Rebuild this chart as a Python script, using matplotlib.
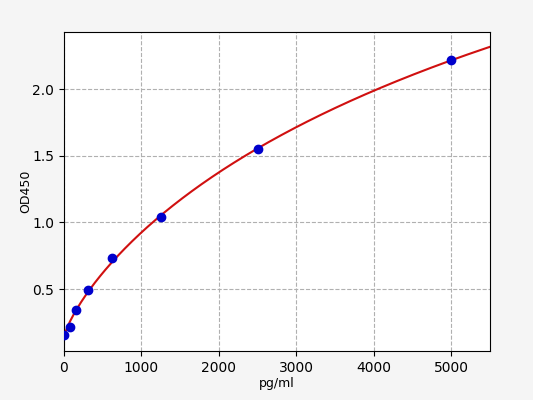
import numpy as np
import matplotlib.pyplot as plt

conc = [0, 78, 156, 312, 625, 1250, 2500, 5000]          # pg/ml
od = [0.155, 0.215, 0.345, 0.49, 0.73, 1.04, 1.55, 2.22]  # OD450

x = np.array(conc, dtype=float)
y = np.array(od)

# 4PL fit: y = d + (a-d)/(1+(x/c)^b); grid over b, c, least squares for a, d
best = None
for bb in np.linspace(0.5, 1.5, 101):
    for cc in np.geomspace(1000, 100000, 200):
        g = 1.0 / (1.0 + (x / cc) ** bb)
        A = np.column_stack([g, 1 - g])
        coef, _, _, _ = np.linalg.lstsq(A, y, rcond=None)
        err = np.sum((A @ coef - y) ** 2)
        if best is None or err < best[0]:
            best = (err, bb, cc, coef)
_, bb, cc, (a, d) = best

xs = np.linspace(0, 5500, 400)
ys = d + (a - d) / (1.0 + (xs / cc) ** bb)

fig = plt.figure(figsize=(5.33, 4.0), dpi=100, facecolor='#f5f5f5')
ax = fig.add_axes([0.12, 0.1225, 0.799, 0.7975])
ax.set_facecolor('white')
ax.plot(xs, ys, color='#d01010', lw=1.5, zorder=2)
ax.scatter(x, y, color='#0000cc', s=36, zorder=3)
ax.set_xlim(0, 5500)
ax.set_ylim(0.035, 2.43)
ax.set_xticks([0, 1000, 2000, 3000, 4000, 5000])
ax.set_yticks([0.5, 1.0, 1.5, 2.0])
ax.grid(True, linestyle='--', color='#b0b0b0', lw=0.8)
ax.set_xlabel('pg/ml', fontsize=9, labelpad=2)
ax.set_ylabel('OD450', fontsize=9, labelpad=0)
fig.savefig('out.png', dpi=100, facecolor=fig.get_facecolor())
